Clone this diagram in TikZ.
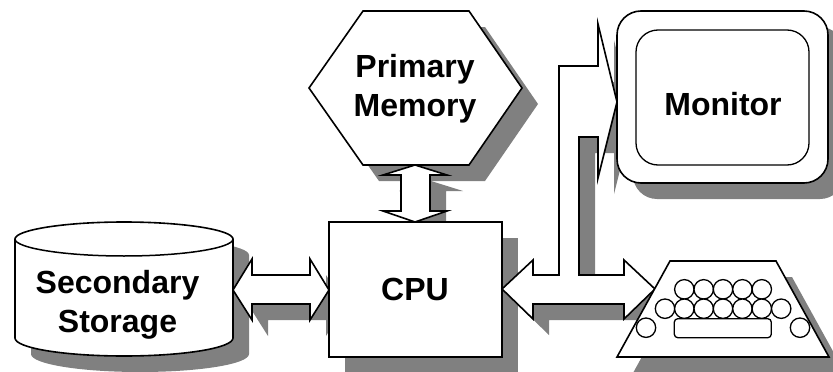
\documentclass[tikz,border=0pt]{standalone}
\usepackage{fontspec}
\setmainfont{Liberation Sans}
\usetikzlibrary{shadows}
\definecolor{shadowgray}{HTML}{808080}
\tikzset{
  shade16/.style={general shadow={fill=shadowgray,shadow xshift=16pt,shadow yshift=-16pt}},
  solid box/.style={draw=black,fill=white,line width=1.6pt,line join=miter,miter limit=10,shade16},
  plain key/.style={draw=black,fill=white,line width=1.3pt},
  label text/.style={font=\fontsize{32}{39}\selectfont\bfseries,align=center,inner sep=0pt,text=black}
}
\begin{document}
\begin{tikzpicture}[x=1pt,y=-1pt]
\useasboundingbox (0,0) rectangle (833,372);
\clip (0,0) rectangle (833,372);
\fill[white] (0,0) rectangle (833,372);
% secondary storage
\draw[solid box] (15,239) .. controls (15,230) and (64,222) .. (124,222)
  .. controls (184,222) and (233,230) .. (233,239) -- (233,338)
  .. controls (233,348) and (184,356) .. (124,356)
  .. controls (64,356) and (15,348) .. (15,338) -- cycle;
\draw[line width=1.5pt] (15,239) .. controls (15,248) and (64,256) .. (124,256)
  .. controls (184,256) and (233,248) .. (233,239);
% primary memory
\draw[solid box] (309,88) -- (363,11) -- (469,11) -- (522,88) -- (469,165) -- (363,165) -- cycle;
% memory - cpu arrow
\draw[solid box] (415,165) -- (447,175) -- (430,175) -- (430,211) -- (447,211) -- (415,222)
  -- (383,211) -- (401,211) -- (401,175) -- (383,175) -- cycle;
% storage - cpu arrow
\draw[solid box] (233,290) -- (252,259) -- (252,275) -- (310,275) -- (310,259) -- (329,290)
  -- (310,320) -- (310,304) -- (252,304) -- (252,320) -- cycle;
% cpu
\draw[solid box] (329,222) rectangle (502,357);
% bus to monitor and keyboard
\draw[solid box] (502,289) -- (533,260) -- (533,275) -- (559,275) -- (559,66) -- (598,66)
  -- (598,24) -- (617,102) -- (598,178) -- (598,137) -- (579,137) -- (579,275) -- (624,275)
  -- (624,260) -- (655,289) -- (624,319) -- (624,304) -- (533,304) -- (533,319) -- cycle;
% monitor
\draw[solid box,rounded corners=24pt] (617,11) rectangle (828,183);
\draw[draw=black,line width=1.3pt,rounded corners=22pt] (636,30) rectangle (809,165);
% keyboard
\draw[solid box] (670,261) -- (776,261) -- (829,357) -- (617,357) -- cycle;
\foreach \x in {684.3,703.7,723,742.4,761.8}
  \draw[plain key] (\x,289.3) circle [radius=9.7];
\foreach \x in {665,684.3,703.7,723,742.4,761.8,781.2}
  \draw[plain key] (\x,308.7) circle [radius=9.7];
\draw[plain key] (646,327.7) circle [radius=9.7];
\draw[plain key] (800,327.7) circle [radius=9.7];
\draw[plain key,rounded corners=3.5pt] (674.3,318.7) rectangle (771.3,337.7);
% labels
\node[label text] (storage) at (117.5,305) {Secondary\\Storage};
\node[label text] (memory) at (415,89) {Primary\\Memory};
\node[label text] (cpu) at (415,289.5) {CPU};
\node[label text] (monitor) at (723,104.5) {Monitor};
\end{tikzpicture}
\end{document}
